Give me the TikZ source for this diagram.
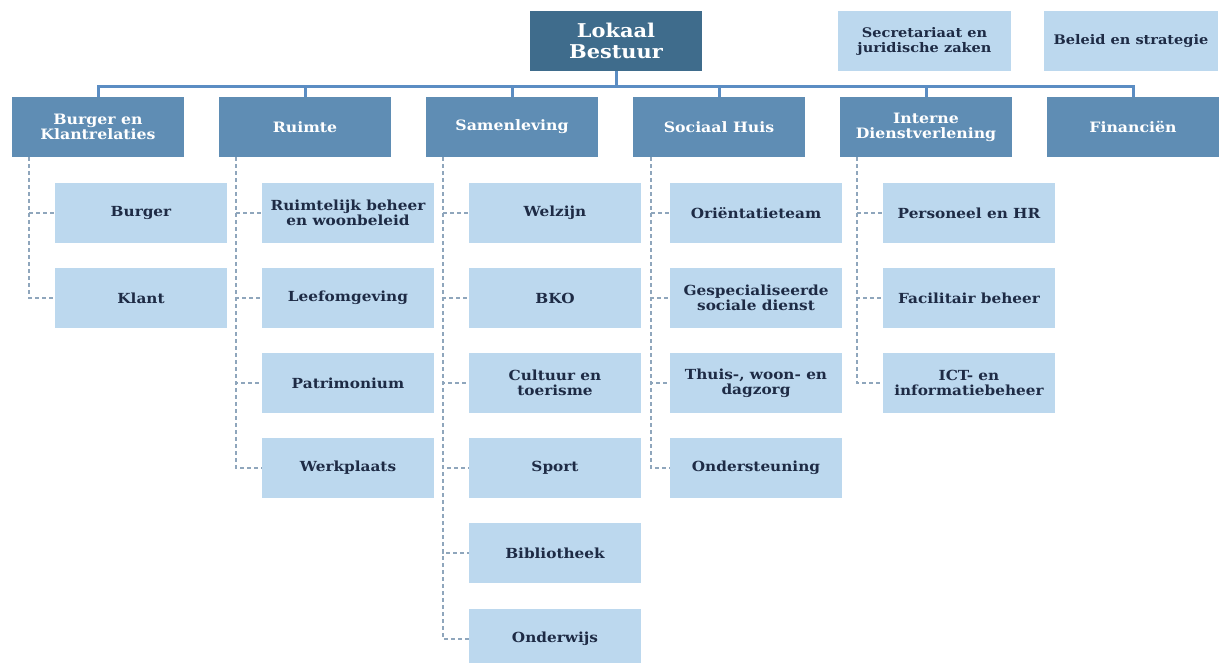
\documentclass[tikz,border=0pt]{standalone}
\usepackage{fontspec}
\setmainfont{DejaVu Serif}[FakeStretch=1.1]
\usetikzlibrary{positioning,calc}
\definecolor{topblue}{HTML}{3F6C8C}
\definecolor{deptblue}{HTML}{5F8DB4}
\definecolor{subblue}{HTML}{BCD8EE}
\definecolor{navy}{HTML}{1E2B45}
\definecolor{busblue}{HTML}{5B8DC3}
\definecolor{dashgrey}{HTML}{8FA6BC}
\tikzset{
  box/.style={align=center,rectangle,inner sep=2pt,minimum height=60pt,minimum width=172pt},
  topbox/.style={box,fill=topblue,text=white,font=\fontsize{19}{21}\selectfont\bfseries},
  staffbox/.style={box,fill=subblue,text=navy,font=\fontsize{13.2}{15}\selectfont\bfseries},
  deptbox/.style={box,fill=deptblue,text=white,font=\fontsize{14.3}{15}\selectfont\bfseries},
  subbox/.style={box,fill=subblue,text=navy,font=\fontsize{13.9}{15}\selectfont\bfseries},
  busline/.style={draw=busblue,line width=3pt},
  subline/.style={draw=dashgrey,line width=1.8pt,dash pattern=on 4pt off 3pt}
}
\begin{document}
\begin{tikzpicture}[x=1pt,y=-1pt]
    \useasboundingbox (0,0) rectangle (1224,663);
    \clip (0,0) rectangle (1224,663);

    \node at (616, 41) [topbox] (bestuur) {Lokaal\\Bestuur};
    \node at (924.5, 41) [staffbox, minimum width=173pt] (secr) {Secretariaat en\\juridische zaken};
    \node at (1131, 41) [staffbox, minimum width=174pt] (beleid) {Beleid en strategie};

    \node at (98, 127) [deptbox] (burgerdept) {Burger en\\Klantrelaties};
    \node at (305, 127) [deptbox] (ruimte) {Ruimte};
    \node at (512, 127) [deptbox] (samen) {Samenleving};
    \node at (719, 127) [deptbox] (sociaal) {Sociaal Huis};
    \node at (926, 127) [deptbox] (interne) {Interne\\Dienstverlening};
    \node at (1133, 127) [deptbox] (financien) {Financiën};

    \node at (141, 213) [subbox] (burger) {Burger};
    \node at (141, 298) [subbox] (klant) {Klant};

    \node at (348, 213) [subbox] (ruimtelijk) {Ruimtelijk beheer\\en woonbeleid};
    \node at (348, 298) [subbox] (leef) {Leefomgeving};
    \node at (348, 383) [subbox] (patri) {Patrimonium};
    \node at (348, 468) [subbox] (werk) {Werkplaats};

    \node at (555, 213) [subbox] (welzijn) {Welzijn};
    \node at (555, 298) [subbox] (bko) {BKO};
    \node at (555, 383) [subbox] (cultuur) {Cultuur en\\toerisme};
    \node at (555, 468) [subbox] (sport) {Sport};
    \node at (555, 553) [subbox] (biblio) {Bibliotheek};
    \node at (555, 639) [subbox] (onderwijs) {Onderwijs};

    \node at (756, 213) [subbox] (orient) {Oriëntatieteam};
    \node at (756, 298) [subbox] (gespec) {Gespecialiseerde\\sociale dienst};
    \node at (756, 383) [subbox] (thuis) {Thuis-, woon- en\\dagzorg};
    \node at (756, 468) [subbox] (onderst) {Ondersteuning};

    \node at (969, 213) [subbox] (personeel) {Personeel en HR};
    \node at (969, 298) [subbox] (facil) {Facilitair beheer};
    \node at (969, 383) [subbox] (ict) {ICT- en\\informatiebeheer};

    % bus from the top box to the departments
    \draw[busline] (bestuur.south) -- ++(0,15) coordinate (hub);
    \draw[busline] (hub) -| (burgerdept.north);
    \draw[busline] (hub) -| (ruimte.north);
    \draw[busline] (hub) -| (samen.north);
    \draw[busline] (hub) -| (sociaal.north);
    \draw[busline] (hub) -| (interne.north);
    \draw[busline] (hub) -| (financien.north);

    % dashed trunks under each department
    \coordinate (tburger) at ($(burgerdept.south west)+(17,0)$);
    \coordinate (truimte) at ($(ruimte.south west)+(17,0)$);
    \coordinate (tsamen) at ($(samen.south west)+(17,0)$);
    \coordinate (tsociaal) at ($(sociaal.south west)+(18,0)$);
    \coordinate (tinterne) at ($(interne.south west)+(17,0)$);

    \draw[subline] (tburger) |- (burger.west);
    \draw[subline] (tburger) |- (klant.west);

    \draw[subline] (truimte) |- (ruimtelijk.west);
    \draw[subline] (truimte) |- (leef.west);
    \draw[subline] (truimte) |- (patri.west);
    \draw[subline] (truimte) |- (werk.west);

    \draw[subline] (tsamen) |- (welzijn.west);
    \draw[subline] (tsamen) |- (bko.west);
    \draw[subline] (tsamen) |- (cultuur.west);
    \draw[subline] (tsamen) |- (sport.west);
    \draw[subline] (tsamen) |- (biblio.west);
    \draw[subline] (tsamen) |- (onderwijs.west);

    \draw[subline] (tsociaal) |- (orient.west);
    \draw[subline] (tsociaal) |- (gespec.west);
    \draw[subline] (tsociaal) |- (thuis.west);
    \draw[subline] (tsociaal) |- (onderst.west);

    \draw[subline] (tinterne) |- (personeel.west);
    \draw[subline] (tinterne) |- (facil.west);
    \draw[subline] (tinterne) |- (ict.west);
\end{tikzpicture}
\end{document}
